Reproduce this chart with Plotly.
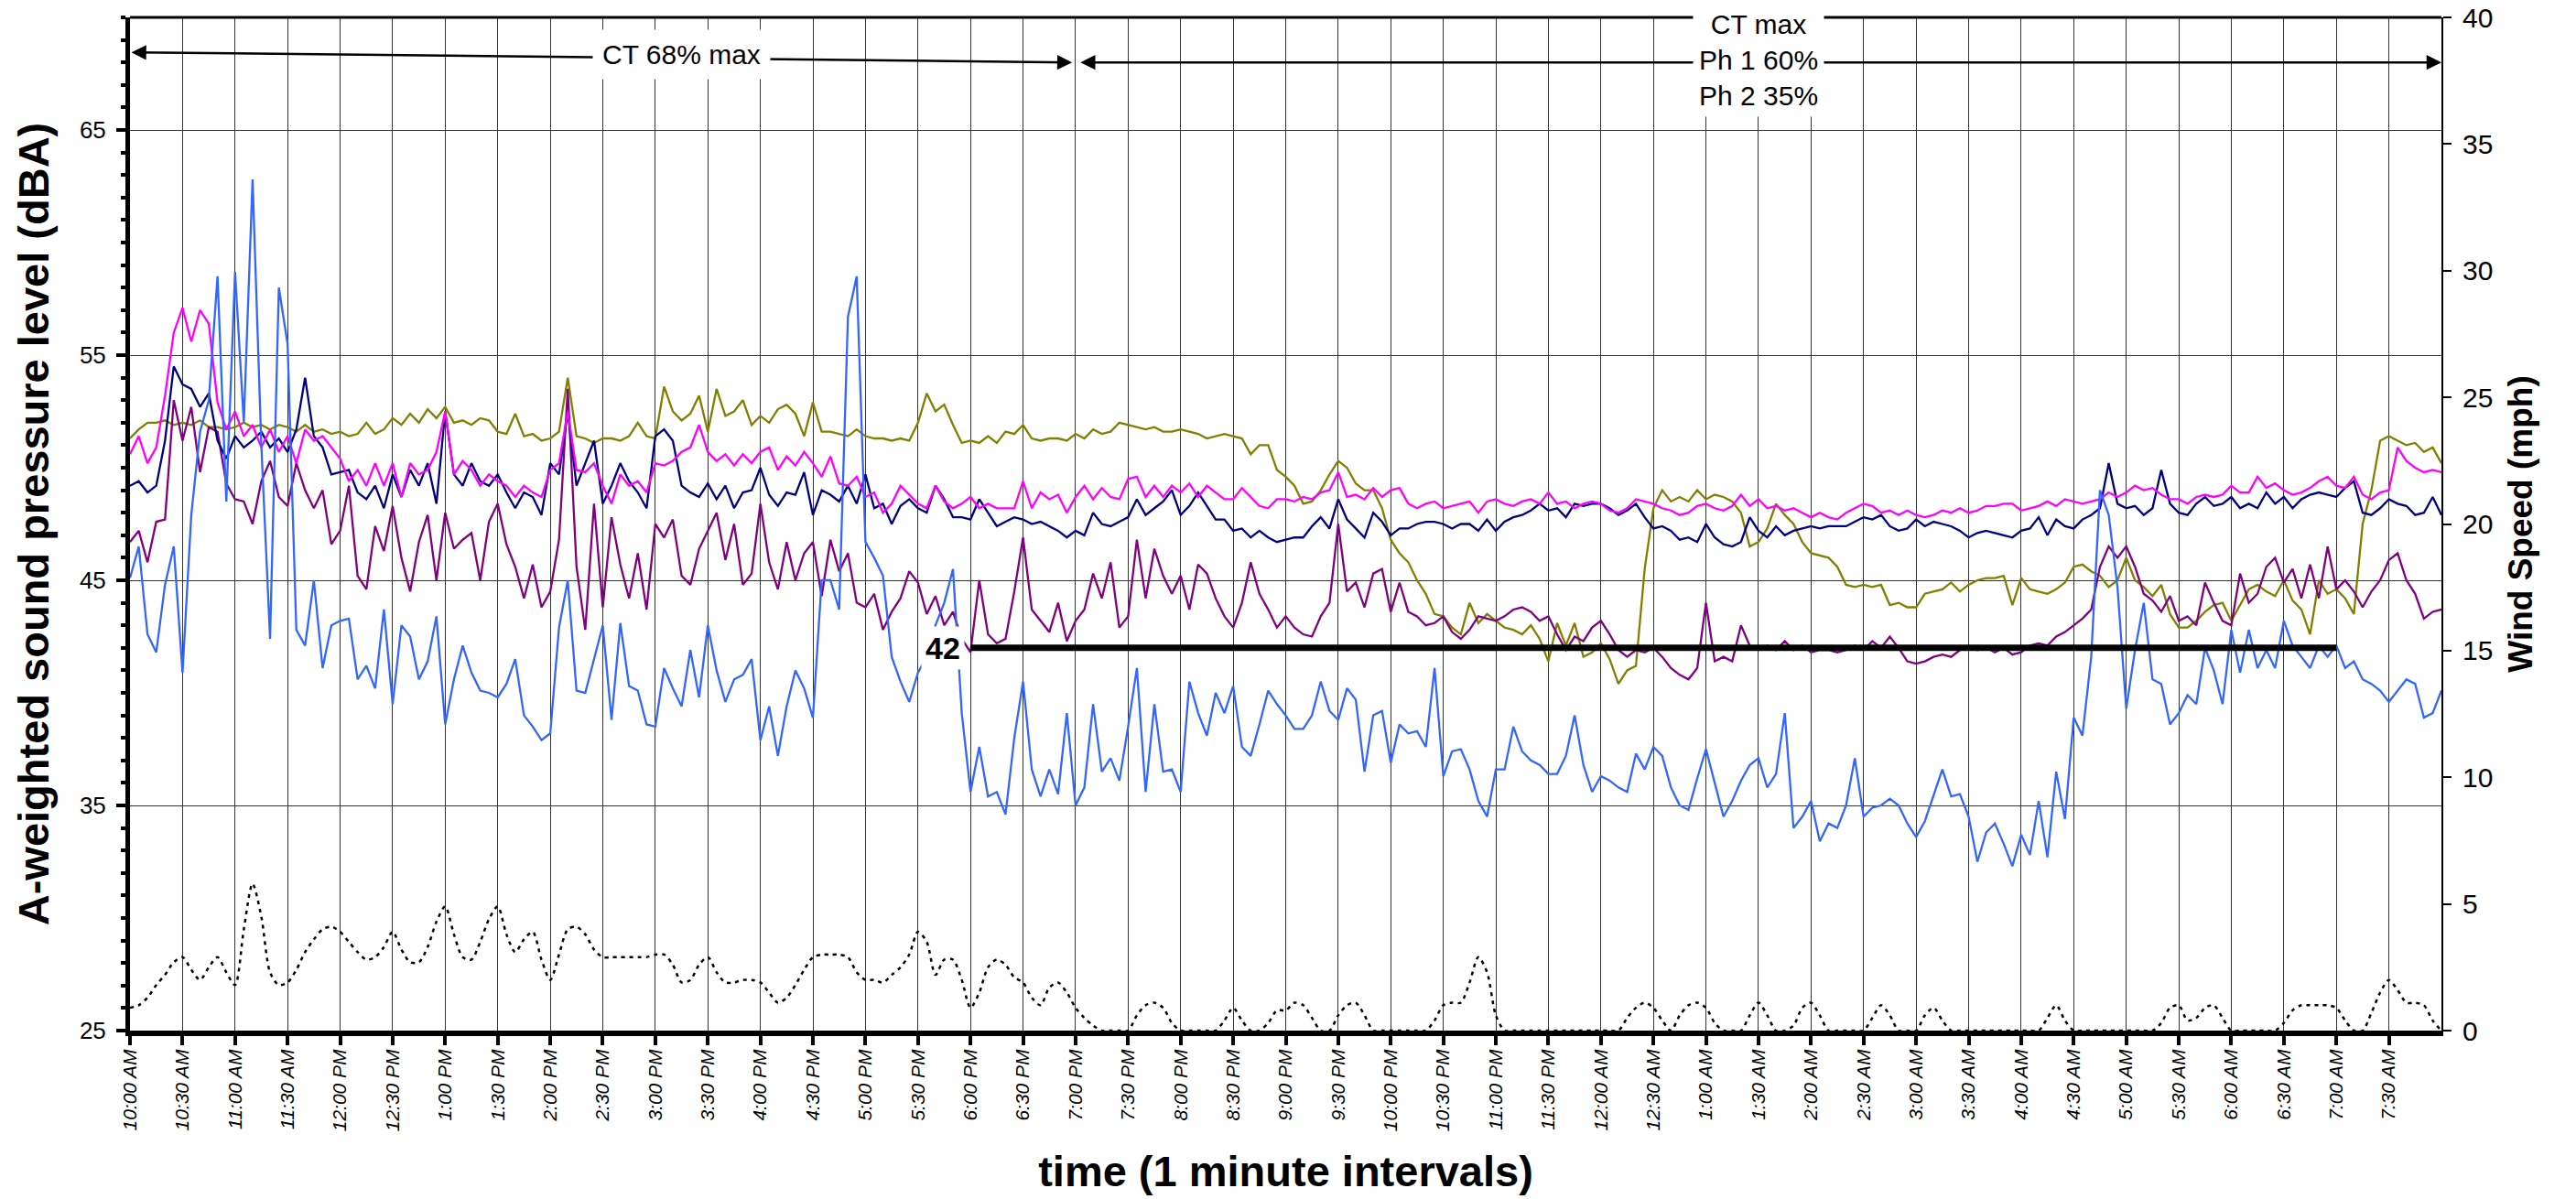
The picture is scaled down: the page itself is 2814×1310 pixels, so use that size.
import plotly.graph_objects as go

# ---------------- data (5-minute samples, starting 10:00 AM) ----------------
STEP_MIN = 5

TIME_LABELS = [
    "10:00 AM", "10:30 AM", "11:00 AM", "11:30 AM", "12:00 PM", "12:30 PM", "1:00 PM", "1:30 PM",
    "2:00 PM", "2:30 PM", "3:00 PM", "3:30 PM", "4:00 PM", "4:30 PM", "5:00 PM", "5:30 PM",
    "6:00 PM", "6:30 PM", "7:00 PM", "7:30 PM", "8:00 PM", "8:30 PM", "9:00 PM", "9:30 PM",
    "10:00 PM", "10:30 PM", "11:00 PM", "11:30 PM", "12:00 AM", "12:30 AM", "1:00 AM", "1:30 AM",
    "2:00 AM", "2:30 AM", "3:00 AM", "3:30 AM", "4:00 AM", "4:30 AM", "5:00 AM", "5:30 AM",
    "6:00 AM", "6:30 AM", "7:00 AM", "7:30 AM",
]

OLIVE = [
    51.3, 51.7, 52.0, 52.0, 52.1, 51.9, 52.0, 51.9, 52.1, 51.8, 51.8, 51.7,
    51.8, 52.0, 51.8, 51.9, 51.7, 51.9, 51.8, 51.6, 51.9, 51.6, 51.7, 51.5,
    51.6, 51.4, 51.5, 52.0, 51.5, 51.7, 52.2, 51.9, 52.4, 52.0, 52.6, 52.2,
    52.7, 52.0, 52.1, 51.9, 52.2, 52.1, 51.6, 51.5, 52.4, 51.4, 51.5, 51.2,
    51.3, 51.6, 54.0, 51.4, 51.3, 51.1, 51.3, 51.3, 51.2, 51.4, 52.0, 51.4,
    51.3, 53.6, 52.5, 52.1, 52.4, 53.2, 51.6, 53.5, 52.3, 52.5, 53.0, 51.9,
    52.3, 52.0, 52.6, 52.8, 52.4, 51.4, 52.9, 51.6, 51.6, 51.5, 51.4, 51.7,
    51.4, 51.3, 51.3, 51.2, 51.3, 51.2, 52.0, 53.3, 52.5, 52.8, 51.9, 51.1,
    51.2, 51.1, 51.4, 51.1, 51.6, 51.5, 51.9, 51.3, 51.2, 51.3, 51.3, 51.2,
    51.5, 51.3, 51.7, 51.5, 51.6, 52.0, 51.9, 51.8, 51.7, 51.8, 51.6, 51.6,
    51.7, 51.6, 51.5, 51.3, 51.4, 51.5, 51.4, 51.3, 50.6, 51.0, 51.0, 49.9,
    49.6, 49.2, 48.4, 48.5, 49.0, 49.7, 50.3, 50.0, 49.3, 49.0, 49.0, 48.2,
    46.8, 46.2, 45.8, 45.0, 44.4, 43.5, 43.4, 42.9, 42.6, 44.0, 43.1, 43.5,
    43.2, 42.9, 42.8, 42.6, 43.0, 42.4, 41.4, 43.1, 42.1, 43.1, 41.6, 41.8,
    42.2, 41.5, 40.4, 41.0, 41.2, 45.5, 48.2, 49.0, 48.5, 48.7, 48.5, 49.0,
    48.6, 48.8, 48.7, 48.5, 48.0, 46.5, 46.7, 47.3, 48.4, 47.9, 47.5, 46.7,
    46.2, 46.1, 46.0, 45.6, 44.8, 44.7, 44.8, 44.7, 44.8, 43.9, 44.0, 43.8,
    43.8, 44.4, 44.5, 44.6, 44.9, 44.5, 44.8, 45.0, 45.1, 45.1, 45.2, 43.9,
    45.1, 44.6, 44.5, 44.4, 44.6, 44.9, 45.6, 45.7, 45.4, 45.2, 44.7, 45.0,
    46.0, 45.0, 44.7, 44.3, 44.8, 43.5, 42.9, 42.9, 43.2, 43.6, 43.9, 44.0,
    43.2, 43.9, 44.6, 44.8, 44.5, 44.3, 45.0, 44.1, 43.7, 42.6, 45.0, 44.4,
    44.6, 44.2, 43.5, 47.5, 49.0, 51.2, 51.4, 51.2, 51.0, 51.1, 50.7, 50.9,
    50.2,
]

MAGENTA = [
    50.6, 51.4, 50.2, 50.9, 53.2, 56.0, 57.1, 55.6, 57.0, 56.4, 52.9, 51.7,
    52.5, 51.4, 51.9, 50.9, 51.7, 50.7, 51.4, 50.2, 51.7, 51.2, 51.4, 50.9,
    50.4, 49.4, 49.9, 49.2, 50.2, 49.2, 50.2, 48.7, 50.2, 49.7, 49.9, 50.7,
    52.5, 49.7, 50.3, 49.9, 49.2, 49.7, 49.4, 49.2, 48.7, 49.2, 48.9, 48.7,
    49.9, 50.2, 52.5, 49.9, 49.8, 50.2, 49.2, 48.4, 49.7, 49.2, 49.4, 48.9,
    50.2, 50.1, 50.3, 50.7, 50.9, 51.9, 50.7, 50.3, 50.6, 50.1, 50.6, 50.2,
    50.7, 50.9, 49.9, 50.5, 50.1, 50.7, 50.2, 49.6, 50.5, 49.3, 49.2, 49.6,
    48.7, 48.9, 48.0, 48.4, 49.2, 48.8, 48.4, 48.2, 49.2, 48.5, 48.2, 48.4,
    48.7, 48.2, 48.4, 48.2, 48.2, 48.2, 49.4, 48.2, 48.9, 48.6, 48.8, 48.0,
    48.7, 49.2, 48.6, 49.1, 48.7, 48.6, 49.5, 49.6, 48.7, 49.2, 48.7, 49.2,
    48.9, 49.3, 48.7, 49.2, 48.9, 48.6, 48.6, 49.1, 48.7, 48.3, 48.2, 48.6,
    48.6, 48.5, 48.7, 48.6, 48.9, 49.0, 49.8, 48.7, 48.8, 48.6, 49.1, 48.7,
    49.0, 49.1, 48.4, 48.2, 48.4, 48.5, 48.2, 48.3, 48.4, 48.5, 48.0, 48.5,
    48.6, 48.4, 48.3, 48.5, 48.6, 48.4, 48.9, 48.4, 48.5, 48.2, 48.4, 48.5,
    48.4, 48.1, 48.0, 48.2, 48.6, 48.5, 48.4, 48.2, 48.1, 47.9, 48.0, 48.3,
    48.4, 48.2, 48.1, 48.3, 48.8, 48.3, 48.6, 48.2, 48.3, 48.1, 48.2, 48.0,
    47.8, 48.0, 47.8, 47.7, 48.0, 48.2, 48.4, 48.3, 48.0, 48.1, 47.9, 48.1,
    47.9, 47.8, 47.9, 48.1, 48.0, 48.2, 48.0, 48.1, 48.3, 48.3, 48.4, 48.4,
    48.1, 48.2, 48.3, 48.5, 48.3, 48.6, 48.5, 48.4, 48.5, 48.6, 48.9, 48.7,
    48.9, 49.2, 49.0, 49.1, 48.8, 48.6, 48.6, 48.4, 48.7, 48.8, 48.7, 48.8,
    49.2, 48.9, 48.9, 49.6, 49.1, 49.3, 49.0, 48.8, 48.9, 49.1, 49.4, 49.6,
    49.2, 49.1, 49.6, 48.8, 48.6, 48.9, 49.0, 50.9, 50.3, 50.0, 49.8, 49.9,
    49.8,
]

NAVY = [
    49.2, 49.4, 48.9, 49.2, 51.2, 54.5, 53.7, 53.5, 52.7, 53.3, 51.2, 50.4,
    51.4, 50.9, 51.2, 51.6, 50.9, 51.3, 50.7, 51.7, 54.0, 51.4, 50.9, 49.7,
    49.8, 49.9, 48.9, 48.6, 49.2, 48.2, 49.7, 48.7, 49.9, 49.2, 50.2, 48.4,
    52.5, 49.7, 49.2, 50.2, 49.4, 49.2, 49.7, 48.9, 48.2, 48.9, 48.7, 47.9,
    50.2, 49.7, 52.5, 49.2, 50.2, 51.2, 48.4, 49.2, 50.2, 49.4, 48.9, 48.2,
    51.4, 51.7, 51.2, 49.2, 48.9, 48.7, 49.3, 48.6, 49.2, 48.2, 48.9, 49.0,
    50.0, 48.8, 48.3, 48.9, 48.8, 49.8, 47.9, 49.0, 48.8, 48.5, 49.2, 48.4,
    49.7, 48.2, 48.4, 47.5, 48.3, 48.6, 48.2, 48.0, 49.2, 48.6, 47.8, 47.8,
    47.7, 48.6, 48.0, 47.4, 47.6, 47.8, 47.7, 47.5, 47.6, 47.4, 47.2, 46.9,
    47.2, 47.0, 48.0, 47.5, 47.4, 47.6, 47.8, 48.6, 47.9, 48.2, 48.5, 49.0,
    47.9, 48.3, 48.9, 48.3, 47.7, 47.7, 47.2, 47.3, 46.9, 47.2, 46.9, 46.7,
    46.8, 46.9, 46.9, 47.4, 47.8, 47.3, 48.6, 47.7, 47.3, 46.9, 48.0, 47.6,
    47.0, 47.3, 47.3, 47.5, 47.6, 47.6, 47.5, 47.3, 47.5, 47.5, 47.2, 47.7,
    47.2, 47.6, 47.8, 47.9, 48.1, 48.4, 48.1, 48.2, 47.8, 48.4, 48.3, 48.4,
    48.4, 48.2, 47.9, 48.1, 48.4, 47.8, 47.3, 47.4, 47.2, 46.8, 46.9, 46.7,
    47.5, 46.9, 46.6, 46.5, 46.7, 47.8, 47.2, 46.9, 47.4, 47.0, 47.2, 47.3,
    47.4, 47.3, 47.4, 47.4, 47.4, 47.6, 47.8, 47.7, 47.9, 47.4, 47.2, 47.3,
    47.7, 47.4, 47.6, 47.5, 47.4, 47.2, 46.9, 47.1, 47.2, 47.1, 47.0, 46.9,
    47.2, 47.3, 47.8, 47.0, 47.7, 47.4, 47.3, 47.7, 47.9, 48.2, 50.2, 48.4,
    48.2, 48.3, 47.9, 48.2, 49.9, 48.4, 48.0, 47.9, 48.4, 48.7, 48.3, 48.4,
    48.7, 48.2, 48.4, 48.2, 48.9, 48.4, 48.7, 48.2, 48.6, 48.8, 48.9, 48.8,
    48.7, 49.1, 49.4, 48.0, 47.9, 48.2, 48.6, 48.4, 48.3, 47.9, 48.0, 48.7,
    47.9,
]

PURPLE = [
    46.7, 47.2, 45.8, 47.6, 47.7, 53.0, 51.2, 52.7, 49.8, 51.8, 51.6, 49.3,
    48.6, 48.5, 47.5, 49.4, 50.3, 48.7, 48.3, 50.2, 49.0, 48.2, 49.0, 46.6,
    47.2, 49.2, 45.2, 44.6, 47.4, 46.3, 48.3, 46.0, 44.5, 46.7, 47.9, 45.0,
    48.0, 46.4, 46.8, 47.1, 45.0, 47.6, 48.4, 46.6, 45.6, 44.2, 45.7, 43.8,
    44.5, 46.8, 53.5, 45.6, 42.8, 48.4, 43.8, 47.8, 45.7, 44.2, 46.2, 43.7,
    47.5, 46.9, 47.7, 45.2, 44.8, 46.4, 47.2, 48.0, 45.9, 47.5, 44.8, 45.3,
    48.4, 45.8, 44.6, 46.7, 45.0, 46.2, 46.7, 44.3, 46.8, 45.4, 46.2, 44.0,
    43.8, 44.4, 42.8, 43.6, 44.2, 45.4, 44.9, 43.5, 44.3, 43.0, 43.6, 42.4,
    41.8, 45.0, 42.6, 42.2, 42.4, 44.5, 46.9, 43.7, 43.2, 42.7, 44.0, 42.3,
    43.2, 43.7, 45.3, 44.2, 45.8, 42.9, 43.4, 46.8, 44.2, 46.4, 45.2, 44.4,
    45.2, 43.7, 45.7, 45.3, 44.2, 43.4, 42.9, 44.0, 45.8, 44.4, 43.7, 42.9,
    43.4, 42.9, 42.6, 42.5, 43.4, 44.0, 47.5, 44.5, 44.9, 43.8, 45.3, 45.5,
    43.6, 44.9, 43.6, 43.4, 43.0, 43.1, 43.4, 42.7, 42.4, 42.8, 43.4, 43.3,
    43.2, 43.4, 43.7, 43.8, 43.6, 43.2, 43.4, 42.6, 41.9, 42.5, 42.3, 42.9,
    43.2, 42.6, 41.9, 41.6, 41.9, 41.8, 42.0, 41.6, 41.1, 40.8, 40.6, 41.1,
    44.0, 41.4, 41.6, 41.4, 43.0, 42.1, 41.9, 42.1, 41.9, 42.3, 41.9, 42.1,
    41.8, 41.9, 41.9, 41.8, 41.9, 42.1, 41.9, 42.3, 42.0, 42.5, 42.0, 41.4,
    41.3, 41.4, 41.6, 41.7, 41.6, 41.9, 42.0, 41.9, 42.0, 41.8, 42.0, 41.7,
    41.8, 42.1, 42.2, 42.1, 42.5, 42.7, 43.0, 43.3, 43.7, 45.6, 46.5, 46.0,
    46.5, 45.6, 44.4, 44.1, 43.6, 44.3, 43.2, 43.4, 43.0, 44.9, 44.0, 43.2,
    43.0, 45.3, 44.0, 44.4, 45.6, 46.0, 44.9, 45.5, 44.2, 45.7, 44.2, 46.5,
    44.6, 45.0, 44.5, 43.8, 44.5, 45.0, 45.9, 46.2, 45.0, 44.4, 43.3, 43.6,
    43.7,
]

BLUE = [
    45.1, 46.5, 42.6, 41.8, 44.8, 46.5, 40.9, 47.9, 51.6, 53.0, 58.5, 48.5,
    58.7, 52.0, 62.8, 51.0, 42.4, 58.0, 55.5, 42.8, 42.1, 45.0, 41.1, 43.0,
    43.2, 43.3, 40.6, 41.2, 40.2, 43.7, 39.5, 43.0, 42.5, 40.6, 41.4, 43.4,
    38.6, 40.6, 42.1, 40.9, 40.1, 40.0, 39.8, 40.4, 41.5, 39.0, 38.5, 37.9,
    38.2, 42.9, 45.0, 40.1, 40.0, 41.5, 43.0, 38.8, 43.1, 40.3, 40.1, 38.6,
    38.5, 41.1, 40.2, 39.4, 41.9, 39.8, 43.0, 41.0, 39.6, 40.6, 40.8, 41.5,
    37.9, 39.4, 37.2, 39.4, 41.0, 40.2, 38.9, 45.0, 45.0, 43.7, 56.7, 58.5,
    46.7, 46.0, 45.2, 41.6, 40.5, 39.6, 40.9, 41.6, 43.0, 44.0, 45.5, 39.1,
    35.6, 37.6, 35.4, 35.6, 34.6, 38.0, 40.5, 36.6, 35.4, 36.6, 35.5, 39.1,
    35.0, 35.8, 39.5, 36.5, 37.1, 36.1, 38.5, 41.1, 35.6, 39.5, 36.5, 36.6,
    35.6, 40.5, 39.1, 38.1, 40.0, 39.1, 40.3, 37.6, 37.2, 38.6, 40.1, 39.5,
    39.0, 38.4, 38.4, 39.0, 40.5, 39.2, 38.8, 40.2, 39.7, 36.5, 39.0, 39.2,
    36.9, 38.6, 38.2, 38.3, 37.6, 41.1, 36.3, 37.4, 37.5, 36.6, 35.2, 34.5,
    36.6, 36.6, 38.5, 37.4, 37.0, 36.8, 36.4, 36.4, 37.2, 39.0, 36.8, 35.6,
    36.3, 36.1, 35.8, 35.6, 37.3, 36.6, 37.6, 37.2, 35.8, 35.0, 34.8, 36.2,
    37.5, 36.0, 34.5, 35.2, 36.1, 36.8, 37.1, 35.8, 36.4, 39.1, 34.0, 34.5,
    35.2, 33.4, 34.2, 34.0, 35.0, 37.1, 34.5, 34.9, 35.0, 35.3, 35.0, 34.2,
    33.6, 34.3, 35.5, 36.6, 35.4, 35.5, 34.5, 32.5, 33.8, 34.2, 33.3, 32.3,
    33.7, 32.8, 35.2, 32.7, 36.5, 34.4, 38.9, 38.1, 41.6, 49.0, 47.9, 44.7,
    39.3, 41.9, 44.0, 40.6, 40.4, 38.6, 39.1, 39.9, 39.5, 42.0, 41.0, 39.5,
    42.8, 40.9, 42.8, 41.1, 41.9, 41.1, 43.2, 42.1, 41.6, 41.1, 42.1, 41.6,
    42.1, 41.1, 41.4, 40.6, 40.4, 40.1, 39.6, 40.1, 40.6, 40.4, 38.9, 39.1,
    40.1,
]

WIND = [
    0.9, 1.0, 1.3, 1.8, 2.2, 2.7, 2.9, 2.4, 2.0, 2.5, 2.9, 2.3,
    1.8, 4.0, 5.8, 4.5, 2.3, 1.8, 1.9, 2.4, 3.1, 3.6, 4.0, 4.1,
    3.9, 3.5, 3.1, 2.8, 2.9, 3.3, 3.9, 3.2, 2.7, 2.7, 3.3, 4.3,
    4.9, 3.8, 2.9, 2.8, 3.5, 4.4, 4.9, 3.8, 3.1, 3.6, 3.9, 2.8,
    2.0, 3.0, 4.0, 4.1, 3.8, 3.2, 2.9, 2.9, 2.9, 2.9, 2.9, 2.9,
    3.0, 3.0, 2.6, 1.9, 2.0, 2.6, 2.9, 2.3, 1.9, 1.9, 2.0, 2.0,
    1.9, 1.5, 1.1, 1.3, 1.8, 2.4, 2.9, 3.0, 3.0, 3.0, 2.9, 2.3,
    2.0, 2.0, 1.9, 2.2, 2.5, 3.0, 3.9, 3.5, 2.2, 2.8, 2.8, 2.0,
    0.9, 1.5, 2.5, 2.8, 2.6, 2.1, 1.9, 1.3, 1.0, 1.7, 1.9, 1.5,
    0.9, 0.5, 0.2, 0.0, 0.0, 0.0, 0.0, 0.6, 1.0, 1.1, 0.9, 0.3,
    0.0, 0.0, 0.0, 0.0, 0.0, 0.4, 0.9, 0.4, 0.0, 0.0, 0.3, 0.8,
    0.8, 1.1, 1.0, 0.5, 0.0, 0.0, 0.6, 1.0, 1.1, 0.6, 0.0, 0.0,
    0.0, 0.0, 0.0, 0.0, 0.0, 0.4, 1.0, 1.1, 1.1, 1.9, 2.9, 2.3,
    0.6, 0.0, 0.0, 0.0, 0.0, 0.0, 0.0, 0.0, 0.0, 0.0, 0.0, 0.0,
    0.0, 0.0, 0.0, 0.5, 0.9, 1.1, 0.9, 0.4, 0.0, 0.6, 1.0, 1.1,
    0.9, 0.3, 0.0, 0.0, 0.0, 0.6, 1.1, 0.6, 0.0, 0.0, 0.2, 0.9,
    1.1, 0.6, 0.0, 0.0, 0.0, 0.0, 0.0, 0.5, 1.0, 0.6, 0.0, 0.0,
    0.0, 0.6, 0.9, 0.4, 0.0, 0.0, 0.0, 0.0, 0.0, 0.0, 0.0, 0.0,
    0.0, 0.0, 0.0, 0.5, 1.0, 0.4, 0.0, 0.0, 0.0, 0.0, 0.0, 0.0,
    0.0, 0.0, 0.0, 0.0, 0.3, 0.9, 1.0, 0.4, 0.5, 0.9, 1.0, 0.5,
    0.0, 0.0, 0.0, 0.0, 0.0, 0.0, 0.3, 0.8, 1.0, 1.0, 1.0, 1.0,
    0.9, 0.4, 0.0, 0.0, 0.7, 1.5, 2.0, 1.6, 1.1, 1.1, 1.0, 0.4,
    0.0,
]

# reference level line "42" (from 6:00 PM to 7:00 AM), minutes after 10:00 AM
REF_LEVEL = 42
REF_START_MIN = 480
REF_END_MIN = 1260

# operating periods (minutes after 10:00 AM)
PERIOD_START = 0
PERIOD_SWITCH = 540
PERIOD_END = 1320

# ---------------- figure ----------------
FONT = "Liberation Sans, Arial, Helvetica, sans-serif"
GRID = "#333333"
minutes = [i * STEP_MIN for i in range(len(OLIVE))]
tickvals = [i * 30 for i in range(len(TIME_LABELS))]

fig = go.Figure()

series = [
    ("Olive", OLIVE, "#808000"),
    ("Purple", PURPLE, "#800080"),
    ("Navy", NAVY, "#000080"),
    ("Magenta", MAGENTA, "#FF00FF"),
    ("Blue", BLUE, "#3366FF"),
]
for name, vals, col in series:
    fig.add_trace(go.Scatter(x=minutes, y=vals, mode="lines", name=name,
                             line=dict(color=col, width=2.3), hoverinfo="skip"))

fig.add_trace(go.Scatter(x=[REF_START_MIN, REF_END_MIN], y=[REF_LEVEL, REF_LEVEL],
                         mode="lines", name="42 dBA", line=dict(color="black", width=7),
                         hoverinfo="skip"))

fig.add_trace(go.Scatter(x=minutes, y=WIND, yaxis="y2", mode="lines", name="Wind Speed",
                         line=dict(color="black", width=2.5, dash="4px,5px",
                                   shape="spline", smoothing=0.8),
                         hoverinfo="skip"))

fig.update_layout(
    template="none",
    width=2814, height=1310,
    margin=dict(l=142, r=147, t=19, b=184, pad=0),
    paper_bgcolor="white", plot_bgcolor="white",
    showlegend=False,
    font=dict(family=FONT, color="black"),
    xaxis=dict(
        automargin=False,
        range=[0, PERIOD_END], tickmode="array", tickvals=tickvals, ticktext=TIME_LABELS,
        tickangle=-90, tickfont=dict(size=21, style="italic"),
        ticks="outside", ticklen=10, tickwidth=4, tickcolor="black",
        ticklabelstandoff=-4,
        showgrid=True, gridcolor=GRID, gridwidth=1,
        showline=True, linecolor="black", linewidth=6, zeroline=False,
        title=dict(text="time (1 minute intervals)", font=dict(size=47, weight="bold"), standoff=30),
    ),
    yaxis=dict(
        automargin=False,
        range=[25, 70], tickmode="array", tickvals=[25, 35, 45, 55, 65],
        tickfont=dict(size=26), ticks="outside", ticklen=10, tickwidth=4, tickcolor="black",
        minor=dict(dtick=1, tick0=25, ticks="outside", ticklen=5, tickwidth=4,
                   tickcolor="black", showgrid=False),
        showgrid=True, gridcolor=GRID, gridwidth=1,
        showline=True, linecolor="black", linewidth=5, zeroline=False,
        ticklabelstandoff=6,
        title=dict(text="A-weighted sound pressure level (dBA)", font=dict(size=47, weight="bold"),
                   standoff=20),
    ),
    yaxis2=dict(
        automargin=False,
        range=[0, 40], overlaying="y", side="right", tickmode="linear", tick0=0, dtick=5,
        tickfont=dict(size=30), ticks="outside", ticklen=9, tickwidth=1.5, tickcolor="black",
        showgrid=False, showline=True, linecolor="black", linewidth=2, zeroline=False,
        ticklabelstandoff=6,
        title=dict(text="Wind Speed (mph)", font=dict(size=37, weight="bold"), standoff=18),
    ),
    shapes=[
        dict(type="line", xref="paper", yref="paper", x0=0, x1=1, y0=1, y1=1,
             line=dict(color="black", width=3)),
    ],
    annotations=[
        dict(xref="x", yref="y", axref="x", ayref="y",
             x=PERIOD_SWITCH - 2, y=68.0, ax=PERIOD_START, ay=68.45,
             text="", showarrow=True, arrowside="end+start",
             arrowhead=2, startarrowhead=2, arrowsize=1.3, startarrowsize=1.3,
             arrowwidth=2.5, arrowcolor="black", standoff=0, startstandoff=0),
        dict(xref="x", yref="y", axref="x", ayref="y",
             x=PERIOD_END, y=68.0, ax=PERIOD_SWITCH + 2, ay=68.0,
             text="", showarrow=True, arrowside="end+start",
             arrowhead=2, startarrowhead=2, arrowsize=1.3, startarrowsize=1.3,
             arrowwidth=2.5, arrowcolor="black", standoff=0, startstandoff=0),
        dict(xref="x", yref="y", x=315, y=68.35, text="CT 68% max", showarrow=False,
             font=dict(size=30), bgcolor="white", borderpad=10),
        dict(xref="x", yref="y", x=930, y=68.1, text="CT max<br>Ph 1 60%<br>Ph 2 35%",
             showarrow=False, font=dict(size=30), bgcolor="white", borderpad=6),
        dict(xref="x", yref="y", x=464, y=REF_LEVEL, text="<b>42</b>", showarrow=False,
             font=dict(size=34), bgcolor="white", borderpad=4),
    ],
)

fig.write_html("out.html", config={"displayModeBar": False},
               post_script="document.body.style.margin='0px';document.body.style.overflow='hidden';")
